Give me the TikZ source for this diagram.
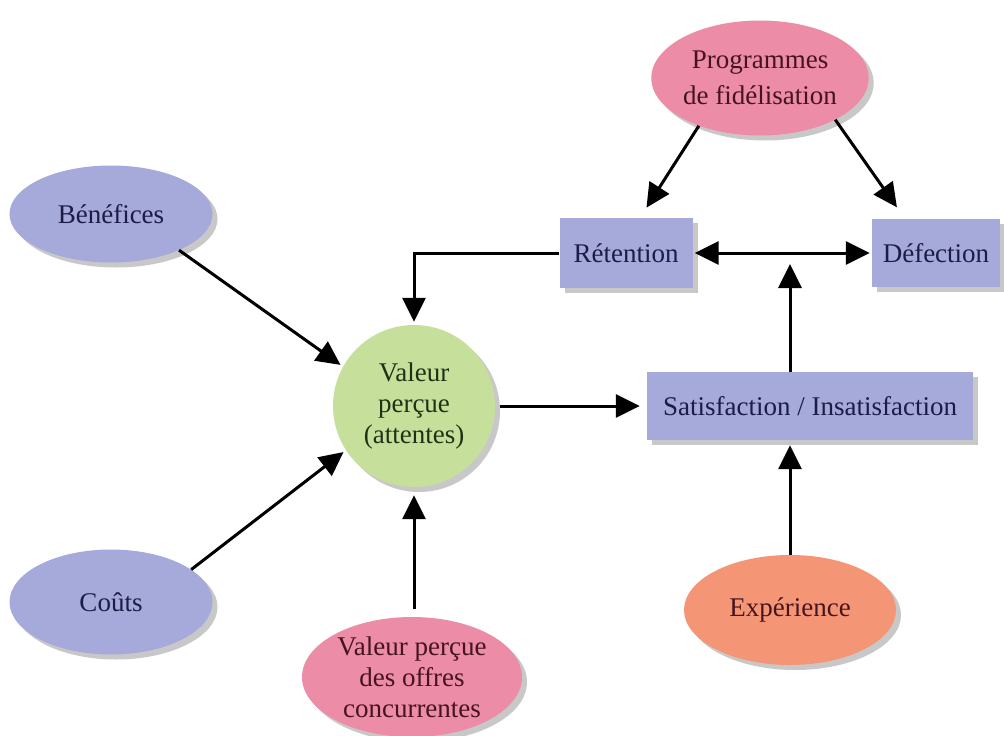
\documentclass[tikz,border=0pt]{standalone}
\usepackage{fontspec}
\setmainfont{Liberation Serif}
\usetikzlibrary{shapes.geometric,arrows.meta,shadows}
\definecolor{blu}{RGB}{165,170,218}
\definecolor{pnk}{RGB}{236,140,166}
\definecolor{grn}{RGB}{198,224,156}
\definecolor{org}{RGB}{244,150,118}
\definecolor{tblu}{RGB}{28,28,70}
\definecolor{tpnk}{RGB}{70,20,30}
\definecolor{tgrn}{RGB}{30,50,20}
\tikzset{
  shad/.style={drop shadow={shadow xshift=5pt,shadow yshift=-5pt,opacity=0.3,fill=black!70}},
  txt/.style={font=\fontsize{27}{31}\selectfont, align=center, inner sep=0pt},
  ell/.style={ellipse, shad, txt, minimum width=#1},
  bx/.style={rectangle, fill=blu, shad, txt, text=tblu},
  arr/.style={line width=3pt, -{Triangle[length=24pt,width=23pt]}},
  darr/.style={line width=3pt, {Triangle[length=24pt,width=23pt]}-{Triangle[length=24pt,width=23pt]}}
}
\begin{document}
\begin{tikzpicture}[x=1pt,y=-1pt]
\useasboundingbox[fill=white] (0,0) rectangle (1004,736);
% nodes
\node[ell, fill=pnk, text=tpnk, minimum width=210pt, minimum height=115pt, font=\fontsize{27}{36}\selectfont] (prog) at (760,78) {Programmes\\de fidélisation};
\node[ell, fill=blu, text=tblu, minimum width=203pt, minimum height=97pt] (ben) at (111,214) {Bénéfices};
\node[ell, fill=blu, text=tblu, minimum width=203pt, minimum height=105pt] (cou) at (111,602) {Coûts};
\node[circle, fill=grn, text=tgrn, shad, txt, minimum size=162pt] (val) at (414,406) {Valeur\\perçue\\(attentes)};
\node[ell, fill=pnk, text=tpnk, minimum width=220pt, minimum height=120pt] (off) at (412,677) {Valeur perçue\\des offres\\concurrentes};
\node[bx, minimum width=133pt, minimum height=70pt] (ret) at (626,253) {Rétention};
\node[bx, minimum width=128pt, minimum height=68pt] (def) at (936,253) {Défection};
\node[bx, minimum width=326pt, minimum height=68pt] (sat) at (810,406) {Satisfaction / Insatisfaction};
\node[ell, fill=org, text=tpnk, minimum width=212pt, minimum height=110pt] (exp) at (790,610) {Expérience};
\coordinate (mid) at (790,264);
% connectors
\draw[arr, shorten >=12pt] (prog.218) -- ([xshift=14pt]ret.north);
\draw[arr, shorten >=14pt] (prog.331) -- ([xshift=-31pt]def.north);
\draw[darr, shorten <=2pt, shorten >=2pt] (ret.east) -- (def.west);
\draw[arr] (sat.north -| mid) -- (mid);
\draw[arr, shorten >=3pt] (ret.west) -| (val.north);
\draw[arr, shorten >=3pt] (ben.332) -- (val.151);
\draw[arr, shorten >=3pt] (cou.22) -- (val.213);
\draw[arr, shorten <=8pt, shorten >=8pt] (off.north -| val.south) -- (val.south);
\draw[arr, shorten <=5pt, shorten >=7pt] (val.east) -- (sat.west);
\draw[arr, shorten >=5pt] (exp.north) -- (sat.south -| exp.north);
\end{tikzpicture}
\end{document}
